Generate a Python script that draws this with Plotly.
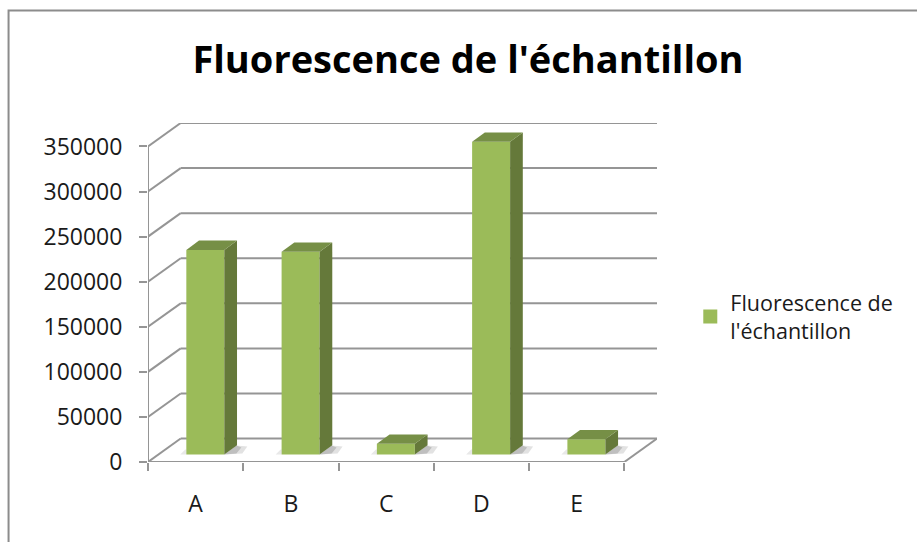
import plotly.graph_objects as go

categories = ["A", "B", "C", "D", "E"]
values = [227000, 225000, 12000, 347000, 17000]
y_ticks = [0, 50000, 100000, 150000, 200000, 250000, 300000, 350000]
series_name = "Fluorescence de<br>l'échantillon"

W, H = 917, 542
LEFT, RIGHT, TOP, BOTTOM = 147.5, 656.7, 123.3, 461.7
CAT_PX = 95.3
VAL_PX = 315 / 350000

FRONT = "#9bbb59"
SIDE = "#65793a"
ROOF = "#768f46"
GRID = "#959595"
FONT = "Open Sans"


def dx_cat(px):
    return px / CAT_PX


def dy_val(px):
    return px / VAL_PX


# depth of the floor and of the bars, in axis units
wall_dx, wall_dy = dx_cat(32.7), dy_val(23.4)
bar_dx, bar_dy = dx_cat(12.7), dy_val(9.3)
bar_width = dx_cat(38)
bar_shift = dx_cat(9.7)
bar_base = dy_val(7.4)
n = len(categories)


def line(x0, y0, x1, y1):
    return dict(type="line", xref="x", yref="y", x0=x0, y0=y0, x1=x1, y1=y1,
                layer="below", line=dict(color=GRID, width=2))


shapes = []
for t in y_ticks:
    shapes.append(line(0, t, wall_dx, t + wall_dy))
    shapes.append(line(wall_dx, t + wall_dy, n + wall_dx, t + wall_dy))
shapes.append(line(0, 0, 0, y_ticks[-1]))
shapes.append(line(0, 0, n, 0))
shapes.append(line(n, 0, n + wall_dx, wall_dy))
# chart frame, only the left and top edges are in the crop
to_px = lambda px: (px - LEFT) / (RIGHT - LEFT)
to_py = lambda py: (BOTTOM - py) / (BOTTOM - TOP)
shapes.append(dict(type="path", xref="paper", yref="paper", layer="below",
                   path=f"M {to_px(8)} {to_py(542)} L {to_px(8)} {to_py(11)} L {to_px(917)} {to_py(11)}",
                   line=dict(color="#8c8c8c", width=2)))

centers = [i + 0.5 + bar_shift for i in range(n)]

fig = go.Figure()
fig.add_trace(go.Bar(
    x=centers,
    y=values,
    base=bar_base,
    width=bar_width,
    name=series_name,
    marker=dict(color=FRONT, line=dict(width=0)),
    showlegend=False,
))


def face(xs, ys, color):
    fig.add_trace(go.Scatter(
        x=xs, y=ys, fill="toself", fillcolor=color, mode="none",
        showlegend=False, hoverinfo="skip",
    ))


for c, v in zip(centers, values):
    x0, x1 = c - bar_width / 2, c + bar_width / 2
    y0, y1 = bar_base, bar_base + v
    # soft shadow on the floor, layered to fade outwards
    face([x1, x1 + dx_cat(18), x1 + dx_cat(23), x1 + dx_cat(12)],
         [y0, y0 + dy_val(1), y0 + dy_val(8), y0 + dy_val(9)],
         "rgba(150,150,150,0.28)")
    face([x1, x1 + dx_cat(12), x1 + dx_cat(17), x1 + dx_cat(12)],
         [y0, y0 + dy_val(1), y0 + dy_val(7), y0 + dy_val(9)],
         "rgba(110,110,110,0.30)")
    face([x0 - dx_cat(6), x0, x0, x0 - dx_cat(1)],
         [y0, y0, y0 + dy_val(5), y0 + dy_val(5)],
         "rgba(150,150,150,0.22)")
    face([x1, x1 + bar_dx, x1 + bar_dx, x1],
         [y0, y0 + bar_dy, y1 + bar_dy, y1], SIDE)
    face([x0, x0 + bar_dx, x1 + bar_dx, x1],
         [y1, y1 + bar_dy, y1 + bar_dy, y1], ROOF)

# legend entry, a bar swatch cannot be sized
fig.add_trace(go.Scatter(
    x=[None], y=[None], mode="markers", name=series_name,
    marker=dict(symbol="square", size=14, color=FRONT),
))

fig.update_layout(
    width=W,
    height=H,
    autosize=False,
    margin=dict(l=LEFT, r=W - RIGHT, t=TOP, b=H - BOTTOM, pad=0),
    paper_bgcolor="white",
    plot_bgcolor="white",
    font=dict(family=FONT, size=23, color="#1a1a1a"),
    title=dict(
        text="<b>Fluorescence de l'échantillon</b>",
        font=dict(family=FONT, size=38, color="black"),
        x=468 / W, xanchor="center", y=1 - 60 / H, yanchor="middle",
    ),
    legend=dict(
        x=to_px(690), xanchor="left", y=to_py(282), yanchor="top",
        font=dict(size=21.5), bgcolor="rgba(0,0,0,0)",
        itemclick=False, itemdoubleclick=False,
    ),
    shapes=shapes,
    xaxis=dict(
        range=[0, (RIGHT - LEFT) / CAT_PX],
        tickvals=[i + 0.5 for i in range(n)],
        ticktext=categories,
        ticklen=0,
        ticklabelstandoff=26,
        showgrid=False,
        zeroline=False,
        showline=False,
        minor=dict(tickvals=list(range(n + 1)), ticks="outside", ticklen=8,
                   tickcolor=GRID, tickwidth=2, showgrid=False),
    ),
    yaxis=dict(
        range=[0, (BOTTOM - TOP) / VAL_PX],
        tickvals=y_ticks,
        tickformat="d",
        ticks="outside",
        ticklen=8,
        tickcolor=GRID,
        tickwidth=2,
        ticklabelstandoff=12,
        showgrid=False,
        zeroline=False,
        showline=False,
    ),
)

# the page's default body margin would push the chart 8px in
fig.write_html(
    "out.html",
    config=dict(displayModeBar=False),
    post_script="document.body.style.margin = '0';",
)
